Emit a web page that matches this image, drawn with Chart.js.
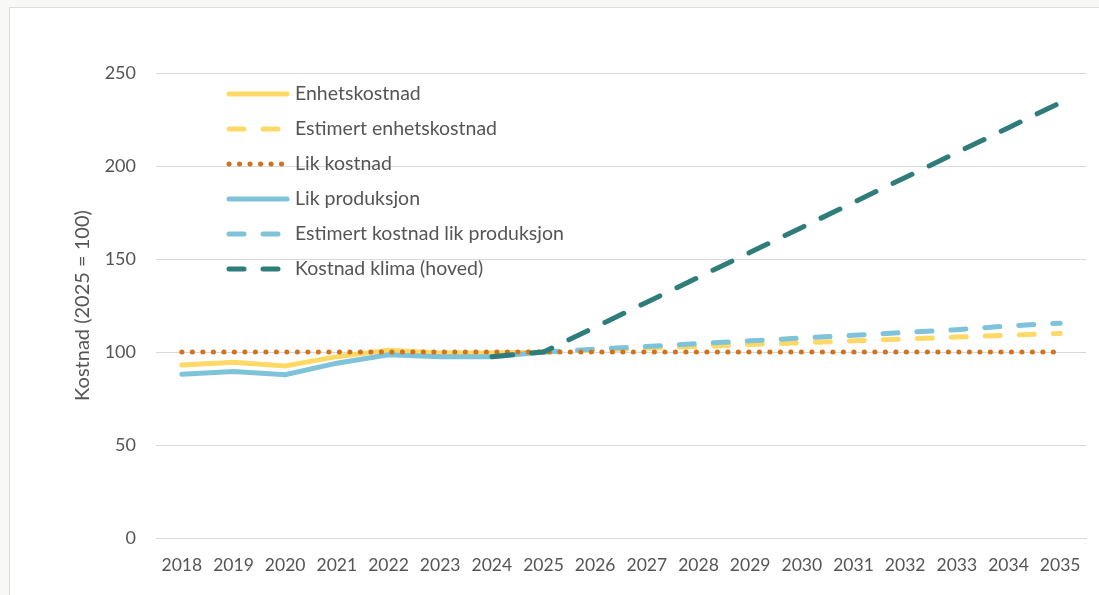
<!DOCTYPE html>
<html>
<head>
<meta charset="utf-8">
<script src="https://cdn.jsdelivr.net/npm/chart.js@4"></script>
<style>
  body { margin: 0; background: #f8f8f6; }
  #box { position: absolute; left: 9px; top: 7px; width: 1090px; height: 588px; background: #fff; border-left: 1px solid #dcdcdc; border-top: 1px solid #dcdcdc; }
</style>
</head>
<body>
<div id="box"><canvas id="chart" width="1090" height="588"></canvas></div>
<script>
var years = ['2018','2019','2020','2021','2022','2023','2024','2025','2026','2027','2028','2029','2030','2031','2032','2033','2034','2035'];
var yTicks = [0, 50, 100, 150, 200, 250];

var enhetskostnad = [93, 94.5, 92.5, 97.5, 101, 99.5, 99.5, 100, null, null, null, null, null, null, null, null, null, null];
var estEnhetskostnad = [null, null, null, null, null, null, null, 100, 101, 102, 103, 104, 105, 106, 107, 108, 109, 110];
var likKostnad = [100, 100, 100, 100, 100, 100, 100, 100, 100, 100, 100, 100, 100, 100, 100, 100, 100, 100];
var likProduksjon = [88, 89.5, 87.8, 94, 98.5, 97.5, 97.5, 100, null, null, null, null, null, null, null, null, null, null];
var estLikProduksjon = [null, null, null, null, null, null, null, 100, 101.5, 103, 104.5, 106, 107.5, 109, 110.5, 112, 114, 115.5];
var kostnadKlima = [null, null, null, null, null, null, 97.5, 100, 113.4, 126.8, 140.2, 153.6, 167, 180.4, 193.8, 207.2, 220.6, 234];

var txt = '#555555';
var font = 'Lato, "Open Sans", sans-serif';

// legend drawn inside plot, one column
var insideLegend = {
  id: 'insideLegend',
  afterDraw: function(chart){
    var ctx = chart.ctx;
    var x0 = 219, y0 = 86, step = 35;
    chart.data.datasets.forEach(function(ds, i){
      var y = y0 + i * step;
      ctx.save();
      ctx.strokeStyle = ds.borderColor;
      ctx.lineWidth = ds.borderWidth;
      ctx.lineCap = ds.borderCapStyle || 'butt';
      ctx.setLineDash(ds.legendDash || []);
      ctx.beginPath();
      ctx.moveTo(x0, y);
      ctx.lineTo(x0 + 58, y);
      ctx.stroke();
      ctx.restore();
      ctx.save();
      ctx.fillStyle = txt;
      ctx.font = '19.5px ' + font;
      ctx.textBaseline = 'middle';
      ctx.fillText(ds.label, x0 + 66, y);
      ctx.restore();
    });
  }
};

new Chart(document.getElementById('chart'), {
  type: 'line',
  data: {
    labels: years,
    datasets: [
      { label: 'Enhetskostnad', data: enhetskostnad, borderColor: '#ffd966', borderWidth: 5, borderCapStyle: 'round', order: 5 },
      { label: 'Estimert enhetskostnad', data: estEnhetskostnad, borderColor: '#ffd966', borderWidth: 5, borderCapStyle: 'round', borderDash: [15, 19], legendDash: [15, 19], order: 4 },
      { label: 'Lik kostnad', data: likKostnad, borderColor: '#d2721f', borderWidth: 5, borderCapStyle: 'round', borderDash: [0.1, 10.4], legendDash: [0.1, 10.4], order: 1 },
      { label: 'Lik produksjon', data: likProduksjon, borderColor: '#7ec3da', borderWidth: 5, borderCapStyle: 'round', order: 3 },
      { label: 'Estimert kostnad lik produksjon', data: estLikProduksjon, borderColor: '#7ec3da', borderWidth: 5, borderCapStyle: 'round', borderDash: [15, 19], legendDash: [15, 19], order: 2 },
      { label: 'Kostnad klima (hoved)', data: kostnadKlima, borderColor: '#2f7d7b', borderWidth: 5, borderCapStyle: 'round', borderDash: [21, 19], legendDash: [15, 19], order: 0 }
    ]
  },
  options: {
    responsive: false,
    animation: false,
    spanGaps: false,
    elements: { point: { radius: 0 }, line: { tension: 0 } },
    layout: { padding: { left: 46, right: 14, top: 65, bottom: 0 } },
    plugins: { legend: { display: false }, tooltip: { enabled: false } },
    scales: {
      x: {
        offset: true,
        grid: { display: false, drawTicks: false },
        border: { color: '#d9d9d9', width: 1 },
        ticks: { color: txt, font: { family: font, size: 17.5 }, padding: 17, maxRotation: 0, autoSkip: false },
        afterFit: function(s){ s.height = 58; }
      },
      y: {
        min: 0, max: 250,
        afterBuildTicks: function(s){ s.ticks = yTicks.map(function(v){ return { value: v }; }); },
        grid: { color: '#d9d9d9', drawTicks: false },
        border: { display: false },
        ticks: { color: txt, font: { family: font, size: 18 }, padding: 20 },
        title: { display: true, text: 'Kostnad (2025 = 100)', color: txt, font: { family: font, size: 20 }, padding: { top: 15 } },
        afterFit: function(s){ s.width = 100; }
      }
    }
  },
  plugins: [insideLegend]
});
</script>
</body>
</html>
